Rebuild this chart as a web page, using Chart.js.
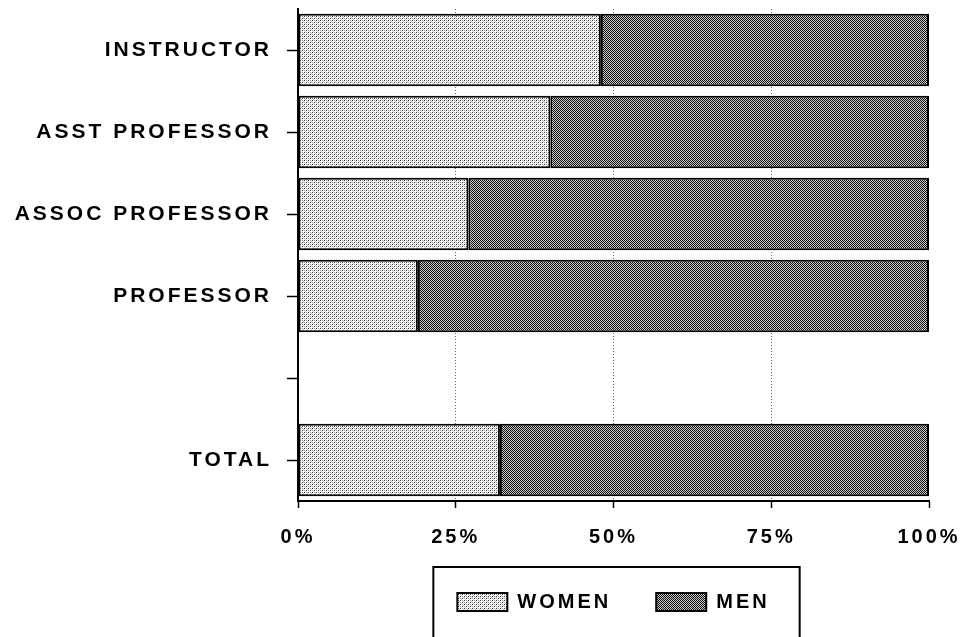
<!DOCTYPE html>
<html>
<head>
<meta charset="utf-8">
<script src="https://cdn.jsdelivr.net/npm/chart.js@4.4.0/dist/chart.umd.min.js"></script>
<style>
    html, body { margin: 0; padding: 0; background: #fff; }
    #wrap { width: 969px; height: 637px; }
</style>
</head>
<body>
<div id="wrap"><canvas id="myChart" width="969" height="637"></canvas></div>
<script>
const categories = ['INSTRUCTOR', 'ASST PROFESSOR', 'ASSOC PROFESSOR', 'PROFESSOR', '', 'TOTAL'];
const womenValues = [48, 40, 27, 19, null, 32];
const menValues = [52, 60, 73, 81, null, 68];
const xTicks = [0, 25, 50, 75, 100];

// small bitmap fills to imitate the printed screens
function makePattern(size, dots, bg) {
    const c = document.createElement('canvas');
    c.width = size;
    c.height = size;
    const g = c.getContext('2d');
    g.fillStyle = bg;
    g.fillRect(0, 0, size, size);
    dots.forEach(d => {
        g.fillStyle = d[2];
        g.fillRect(d[0], d[1], 1, 1);
    });
    return g.createPattern(c, 'repeat');
}

const womenFill = makePattern(4, [[0, 0, '#333'], [2, 2, '#333'], [2, 0, '#999'], [0, 2, '#999'], [3, 1, '#bbb'], [1, 3, '#ccc']], '#fff');
const menFill = makePattern(2, [[0, 0, '#111'], [1, 1, '#111']], '#c8c8c8');

const font = { family: '"Liberation Sans", Arial, sans-serif', size: 20, weight: 'bold' };
const labelFont = { family: '"Liberation Sans", Arial, sans-serif', size: 21, weight: 'bold' };

// boxed legend + wider letter spacing like the original print
const printLook = {
    id: 'printLook',
    beforeUpdate(chart) {
        chart.ctx.letterSpacing = '3px';
    },
    beforeDraw(chart) {
        chart.ctx.letterSpacing = '3px';
    },
    afterDraw(chart) {
        const hb = chart.legend && chart.legend.legendHitBoxes;
        if (!hb || !hb.length) return;
        const first = hb[0];
        const last = hb[hb.length - 1];
        const ctx = chart.ctx;
        ctx.save();
        ctx.strokeStyle = '#000';
        ctx.lineWidth = 2;
        const x0 = first.left - 24;
        ctx.strokeRect(x0, first.top - 25, last.left + last.width + 30 - x0, chart.height + 10);
        ctx.restore();
    }
};

new Chart(document.getElementById('myChart'), {
    type: 'bar',
    data: {
        labels: categories,
        datasets: [
            {
                label: 'WOMEN',
                data: womenValues,
                backgroundColor: womenFill,
                borderColor: '#000',
                borderWidth: 2,
                borderSkipped: false
            },
            {
                label: 'MEN',
                data: menValues,
                backgroundColor: menFill,
                borderColor: '#000',
                borderWidth: 2,
                borderSkipped: false
            }
        ]
    },
    options: {
        indexAxis: 'y',
        responsive: false,
        animation: false,
        datasets: {
            bar: { barPercentage: 0.885, categoryPercentage: 1 }
        },
        layout: {
            padding: { top: 9, right: 40, bottom: 15, left: 0 }
        },
        scales: {
            x: {
                stacked: true,
                min: 0,
                max: 100,
                afterFit(scale) {
                    scale.height = 46;
                    scale.paddingLeft = 0;
                    scale.paddingRight = 0;
                },
                afterBuildTicks(scale) { scale.ticks = xTicks.map(v => ({ value: v })); },
                ticks: {
                    color: '#000',
                    font: font,
                    padding: 17,
                    maxRotation: 0,
                    callback: v => v + '%'
                },
                grid: {
                    color: c => (c.tick && (c.tick.value === 0 || c.tick.value === 100)) ? 'rgba(0,0,0,0)' : '#666',
                    lineWidth: 1,
                    tickColor: '#000',
                    tickLength: 7,
                    tickWidth: 1.5
                },
                border: { color: '#000', width: 2, dash: [1, 2] }
            },
            y: {
                stacked: true,
                afterFit(scale) {
                    scale.width = 298;
                    scale.paddingTop = 0;
                    scale.paddingBottom = 0;
                },
                ticks: {
                    color: '#000',
                    font: labelFont,
                    padding: 15
                },
                grid: {
                    offset: false,
                    drawOnChartArea: false,
                    tickColor: '#000',
                    tickLength: 11,
                    tickWidth: 1.5
                },
                border: { color: '#000', width: 2 }
            }
        },
        plugins: {
            legend: {
                position: 'bottom',
                fullSize: false,
                labels: {
                    color: '#000',
                    font: font,
                    boxWidth: 50,
                    boxHeight: 18,
                    padding: 45
                }
            },
            tooltip: { enabled: false }
        }
    },
    plugins: [printLook]
});
</script>
</body>
</html>
